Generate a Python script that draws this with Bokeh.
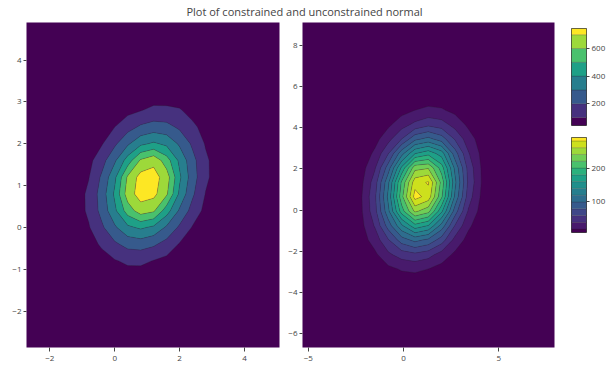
import numpy as np
from bokeh.plotting import figure
from bokeh.layouts import row, column
from bokeh.models import Range1d, FixedTicker, CustomJSTickFormatter
from bokeh.palettes import Viridis8, viridis
from bokeh.core.properties import value
from bokeh.embed import file_html
from bokeh.resources import INLINE

TITLE = "Plot of constrained and unconstrained normal"

# ---------------- left panel (constrained) : 2-D counts ----------------
left_x = [-1.6, -1.2, -0.8, -0.4, 0.0, 0.4, 0.8, 1.2, 1.6, 2.0, 2.4, 2.8, 3.2, 3.6]
left_y = [-1.6, -1.2, -0.8, -0.4, 0.0, 0.4, 0.8, 1.2, 1.6, 2.0, 2.4, 2.8, 3.2, 3.6]
left_z = [
    [5, 8, 12, 17, 21, 24, 23, 19, 14, 9, 6, 4, 2, 1],
    [8, 14, 24, 35, 46, 53, 52, 43, 33, 21, 13, 7, 4, 2],
    [12, 24, 40, 67, 92, 118, 120, 96, 72, 46, 27, 14, 7, 4],
    [17, 35, 67, 112, 182, 232, 244, 216, 161, 92, 52, 27, 13, 6],
    [21, 46, 92, 182, 284, 378, 417, 378, 284, 182, 92, 52, 21, 9],
    [24, 53, 118, 232, 378, 547, 650, 615, 446, 284, 161, 72, 33, 14],
    [23, 52, 120, 244, 417, 650, 745, 728, 615, 378, 216, 96, 43, 19],
    [19, 43, 96, 216, 378, 615, 738, 742, 650, 417, 244, 120, 52, 23],
    [14, 33, 72, 161, 284, 446, 615, 672, 547, 378, 232, 118, 53, 24],
    [9, 21, 46, 92, 182, 284, 378, 417, 378, 284, 182, 92, 46, 21],
    [6, 13, 27, 52, 100, 161, 216, 244, 232, 182, 120, 67, 35, 17],
    [4, 7, 14, 27, 46, 72, 96, 120, 118, 108, 67, 40, 24, 12],
    [2, 4, 7, 13, 21, 33, 43, 52, 53, 46, 35, 24, 14, 8],
    [1, 2, 4, 6, 9, 14, 19, 23, 24, 21, 17, 12, 8, 5],
]
left_levels = [100, 200, 300, 400, 500, 600, 700, 800]
left_xrange = [-2.72, 5.08]
left_yrange = [-2.87, 4.9]
left_xticks = [-2, 0, 2, 4]
left_yticks = [-2, -1, 0, 1, 2, 3, 4]

# ---------------- right panel (unconstrained) : 2-D counts ----------------
right_x = [-3.6, -2.9, -2.2, -1.5, -0.8, -0.1, 0.6, 1.3, 2.0, 2.7, 3.4, 4.1, 4.8, 5.5]
right_y = [-4.25, -3.55, -2.85, -2.15, -1.45, -0.75, -0.05, 0.65, 1.35, 2.05,
           2.75, 3.45, 4.15, 4.85, 5.55, 6.25]
right_z = [
    [0, 0, 0, 1, 2, 3, 3, 2, 1, 1, 0, 0, 0, 0],
    [0, 0, 1, 3, 6, 8, 9, 7, 5, 2, 1, 0, 0, 0],
    [0, 1, 3, 8, 15, 22, 24, 20, 13, 6, 2, 1, 0, 0],
    [0, 2, 6, 16, 36, 49, 55, 48, 31, 16, 6, 2, 0, 0],
    [1, 3, 11, 29, 58, 90, 106, 95, 70, 33, 13, 4, 1, 0],
    [1, 4, 15, 42, 89, 136, 173, 159, 112, 59, 24, 7, 2, 0],
    [1, 5, 18, 53, 115, 190, 244, 227, 164, 90, 38, 12, 3, 1],
    [1, 5, 19, 56, 125, 213, 288, 272, 203, 116, 50, 16, 4, 1],
    [1, 4, 16, 50, 116, 203, 272, 282, 213, 125, 56, 19, 5, 1],
    [1, 3, 12, 38, 90, 164, 233, 238, 190, 115, 53, 18, 5, 1],
    [0, 2, 7, 24, 59, 112, 159, 173, 150, 89, 42, 15, 4, 1],
    [0, 1, 4, 13, 33, 60, 95, 106, 90, 58, 29, 11, 3, 1],
    [0, 0, 2, 6, 16, 31, 45, 55, 49, 32, 16, 6, 2, 0],
    [0, 0, 1, 2, 6, 13, 20, 24, 22, 15, 8, 3, 1, 0],
    [0, 0, 0, 1, 2, 5, 7, 9, 8, 6, 3, 1, 0, 0],
    [0, 0, 0, 0, 1, 1, 2, 3, 3, 2, 1, 0, 0, 0],
]
right_levels = [20, 40, 60, 80, 100, 120, 140, 160, 180, 200, 220, 240, 260, 280, 300]
right_xrange = [-5.3, 7.92]
right_yrange = [-6.66, 9.1]
right_xticks = [-5, 0, 5]
right_yticks = [-6, -4, -2, 0, 2, 4, 6, 8]

# ---------------- colour bars ----------------
cb1_edges = [42, 100, 200, 300, 400, 500, 600, 700, 745]
cb1_ticks = [200, 400, 600]
cb2_edges = [10, 20, 40, 60, 80, 100, 120, 140, 160, 180, 200, 220, 240, 260, 280, 290]
cb2_ticks = [100, 200]

FONT = "Open Sans"
TXT = "#444444"
pal1 = list(Viridis8)
pal2 = list(viridis(15))
BG = pal1[0]

fmt = CustomJSTickFormatter(code="return (tick < 0 ? '\\u2212' : '') + Math.abs(tick);")


def style_axis(ax, ticks, tick_out=3, standoff=2):
    ax.ticker = FixedTicker(ticks=ticks)
    ax.formatter = fmt
    ax.axis_line_color = None
    ax.major_tick_line_color = TXT
    ax.major_tick_in = 0
    ax.major_tick_out = tick_out
    ax.minor_tick_line_color = None
    ax.major_label_standoff = standoff
    ax.major_label_text_font = FONT
    ax.major_label_text_font_size = "8px"
    ax.major_label_text_color = TXT


def panel(xs, ys, zs, levels, pal, xr, yr, xt, yt, width, mleft):
    p = figure(width=width, height=349, x_range=Range1d(*xr), y_range=Range1d(*yr),
               toolbar_location=None, output_backend="svg",
               min_border_left=mleft, min_border_right=6, min_border_top=2,
               min_border_bottom=22, background_fill_color=BG,
               border_fill_color="white", outline_line_color=None)
    p.contour(np.array(xs), np.array(ys), np.array(zs, dtype=float), levels,
              fill_color=pal[1:], line_color="#222222", line_alpha=0.45, line_width=0.5)
    p.grid.visible = False
    style_axis(p.xaxis[0], xt, tick_out=4, standoff=4)
    style_axis(p.yaxis[0], yt)
    return p


p1 = panel(left_x, left_y, left_z, left_levels, pal1, left_xrange, left_yrange,
           left_xticks, left_yticks, 285, 26)
p2 = panel(right_x, right_y, right_z, right_levels, pal2, right_xrange, right_yrange,
           right_xticks, right_yticks, 275, 16)


def colorbar(edges, pal, ticks, height, top, bottom):
    cb = figure(width=48, height=height, x_range=Range1d(0, 1),
                y_range=Range1d(edges[0], edges[-1]), toolbar_location=None,
                output_backend="svg", min_border_left=11, min_border_right=20,
                min_border_top=top, min_border_bottom=bottom,
                x_axis_location=None, y_axis_location="right",
                outline_line_color=TXT, outline_line_width=1)
    cb.quad(left=0, right=1, bottom=edges[:-1], top=edges[1:], fill_color=pal,
            line_color="#222222", line_alpha=0.4, line_width=0.5)
    cb.grid.visible = False
    style_axis(cb.yaxis[0], ticks)
    return cb


cb1 = colorbar(cb1_edges, pal1, cb1_ticks, 111, 8, 6)
cb2 = colorbar(cb2_edges, pal2, cb2_ticks, 107, 6, 6)

tp = figure(width=608, height=20, x_range=Range1d(0, 1), y_range=Range1d(0, 1),
            toolbar_location=None, output_backend="svg", min_border=0,
            x_axis_location=None, y_axis_location=None, outline_line_color=None)
tp.grid.visible = False
tp.text(x=[0.5], y=[0.45], text=[TITLE], text_align="center", text_baseline="middle",
        text_font=value(FONT), text_font_size="11px", text_color=TXT)

layout = column(tp, row(p1, p2, column(cb1, cb2)))

open("out.html", "w").write(file_html(layout, INLINE))
